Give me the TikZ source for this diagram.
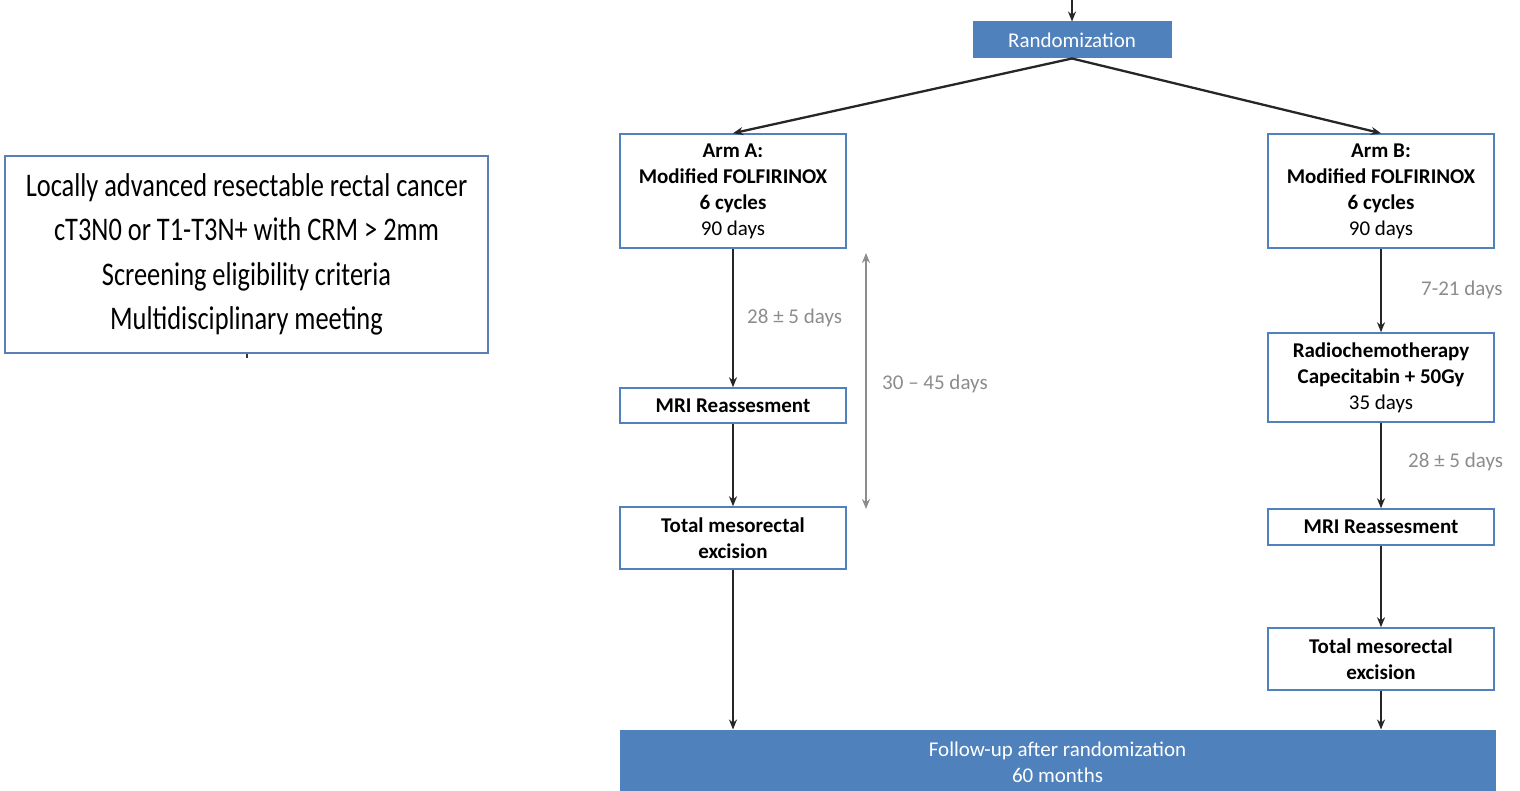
\documentclass[tikz,border=0pt]{standalone}
\usepackage{fontspec}
\setmainfont{Carlito}
\newfontfamily\narrowfont[FakeStretch=0.8]{Carlito}
\usetikzlibrary{arrows.meta,positioning}
\definecolor{boxblue}{HTML}{4F81BD}
\definecolor{frameblue}{HTML}{5B7FB5}
\definecolor{labelgray}{HTML}{8C8C8C}
\begin{document}
\begin{tikzpicture}[x=1pt,y=-1pt,
  every node/.style={font=\fontsize{21}{26}\selectfont, inner sep=0pt, align=center},
  stagebox/.style={draw=boxblue, line width=1.5pt, fill=white, minimum width=226pt},
  filledbox/.style={draw=boxblue, fill=boxblue, text=white, line width=1pt},
  flow/.style={line width=2.3pt, draw=black!85, -{Stealth[length=10pt,width=8pt]}},
  span/.style={line width=2.3pt, draw=labelgray, {Stealth[length=10pt,width=8pt]}-{Stealth[length=10pt,width=8pt]}},
  gaplabel/.style={text=labelgray, anchor=west}]
\useasboundingbox (0,0) rectangle (1520,791);

% inclusion criteria
\node[draw=frameblue, line width=2.5pt, minimum width=483pt, minimum height=197pt,
      font=\narrowfont\fontsize{33}{44.5}\selectfont] (crit) at (246.5,254.5)
  {Locally advanced resectable rectal cancer\\cT3N0 or T1-T3N+ with CRM > 2mm\\Screening eligibility criteria\\Multidisciplinary meeting};
\coordinate (critstub) at (247,358);
\draw[line width=1.5pt, black!80] (crit.south -| critstub) -- (critstub);

% randomization
\coordinate (entry) at (1072,0);
\node[filledbox, minimum width=198pt, minimum height=36pt] (rand) at (1072,40) {Randomization};
\draw[flow] (entry) -- (rand.north);

% arm A
\node[stagebox, minimum height=114pt] (armA) at (733,191)
  {\textbf{Arm A:}\\\textbf{Modified FOLFIRINOX}\\\textbf{6 cycles}\\90 days};
\node[stagebox, minimum height=35pt] (mriA) at (733,405.5) {\textbf{MRI Reassesment}};
\node[stagebox, minimum height=62pt] (tmeA) at (733,538) {\textbf{Total mesorectal}\\\textbf{excision}};

% arm B
\node[stagebox, minimum height=114pt] (armB) at (1381,191)
  {\textbf{Arm B:}\\\textbf{Modified FOLFIRINOX}\\\textbf{6 cycles}\\90 days};
\node[stagebox, minimum height=89pt] (rctB) at (1381,377.5)
  {\textbf{Radiochemotherapy}\\\textbf{Capecitabin + 50Gy}\\35 days};
\node[stagebox, minimum height=36pt] (mriB) at (1381,527) {\textbf{MRI Reassesment}};
\node[stagebox, minimum height=62pt] (tmeB) at (1381,659) {\textbf{Total mesorectal}\\\textbf{excision}};

% follow-up
\node[filledbox, minimum width=875pt, minimum height=64pt] (follow) at (1057.5,762)
  {Follow-up after randomization\\60 months};

% connectors
\draw[flow] (rand.south) -- (armA.north);
\draw[flow] (rand.south) -- (armB.north);
\draw[flow] (armA) -- (mriA);
\draw[flow] (mriA) -- (tmeA);
\draw[flow] (tmeA.south) -- (tmeA.south |- follow.north);
\draw[flow] (armB) -- (rctB);
\draw[flow] (rctB) -- (mriB);
\draw[flow] (mriB) -- (tmeB);
\draw[flow] (tmeB.south) -- (tmeB.south |- follow.north);

% interval labels
\node[gaplabel] (gapA1) at (747,318) {28 ± 5 days};
\node[gaplabel] (gapB1) at (1421,290) {7-21 days};
\node[gaplabel] (gapB2) at (1408,462) {28 ± 5 days};

% overall interval, arm A
\coordinate (spantop) at (866,253);
\coordinate (spanbot) at (866,509);
\draw[span] (spantop) -- (spanbot);
\node[gaplabel] (spanlabel) at (882,384) {30 – 45 days};
\end{tikzpicture}
\end{document}
